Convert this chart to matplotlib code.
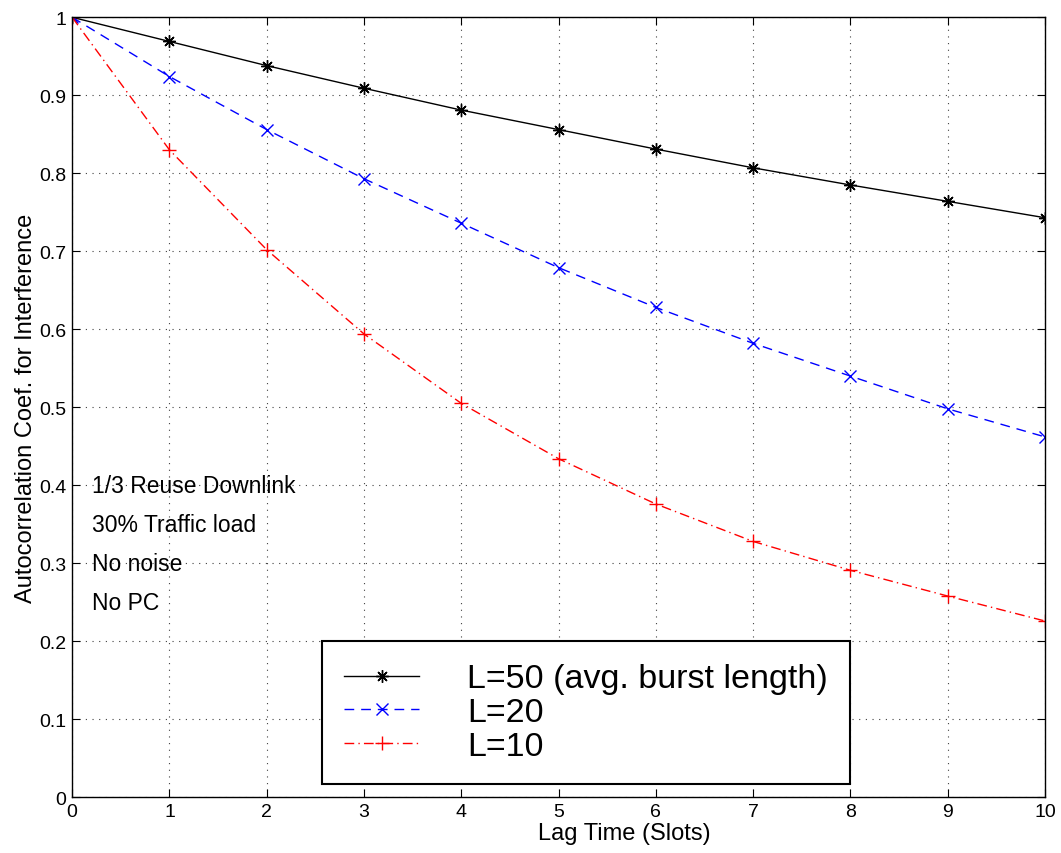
import numpy as np
import matplotlib
matplotlib.use('Agg')
import matplotlib.pyplot as plt

#######################
# Data.
# # # # # # # # # # # #
lags = [0, 1, 2, 3, 4, 5, 6, 7, 8, 9, 10]
rho_L50 = [1.0, 0.969, 0.938, 0.909, 0.881, 0.856, 0.831, 0.807, 0.785, 0.764, 0.743]
rho_L20 = [1.0, 0.924, 0.856, 0.793, 0.736, 0.679, 0.628, 0.582, 0.540, 0.498, 0.462]
rho_L10 = [1.0, 0.830, 0.702, 0.594, 0.505, 0.434, 0.376, 0.328, 0.291, 0.258, 0.226]

labels = ['L=50 (avg. burst length)', 'L=20', 'L=10']
notes = ['1/3 Reuse Downlink', '30% Traffic load', 'No noise', 'No PC']
note_y = [0.4, 0.35, 0.3, 0.25]
xticks = [0, 1, 2, 3, 4, 5, 6, 7, 8, 9, 10]
yticks = [0, 0.1, 0.2, 0.3, 0.4, 0.5, 0.6, 0.7, 0.8, 0.9, 1]
ytick_labels = ['0', '0.1', '0.2', '0.3', '0.4', '0.5', '0.6', '0.7', '0.8', '0.9', '1']
#######################

plt.rcParams['font.family'] = ['Liberation Sans', 'DejaVu Sans']

fig = plt.figure(figsize=(10.61, 8.54), dpi=100)
ax = fig.add_axes([0.068, 0.0652, 0.917, 0.9134])

# matlab style '*' marker
star = (8, 2, 0)
ax.plot(lags, rho_L50, color='k', ls='-', lw=1, marker=star, ms=9, mew=1,
        label=labels[0])
ax.plot(lags, rho_L20, color='b', ls=(0, (7, 5)), lw=1, marker='x', ms=8,
        mew=1, label=labels[1])
ax.plot(lags, rho_L10, color='r', ls=(0, (7, 3, 1, 3)), lw=1, marker='+',
        ms=10, mew=1, label=labels[2])

ax.set_xlim(0, 10)
ax.set_ylim(0, 1)
ax.set_xticks(xticks)
ax.set_xticklabels([str(t) for t in xticks], fontsize=14)
ax.set_yticks(yticks)
ax.set_yticklabels(ytick_labels, fontsize=14)
ax.tick_params(direction='in', length=6, width=0.8, top=True, right=True,
               pad=4)
ax.grid(True, color='0.25', ls=(0, (1, 5)), lw=0.8)
for sp in ax.spines.values():
    sp.set_linewidth(1)

# label sits a bit right of centre in the original
ax.set_xlabel('Lag Time (Slots)', fontsize=17)
ax.xaxis.set_label_coords(0.568, -0.032, transform=ax.transAxes)
ax.xaxis.label.set_va('top')
ax.set_ylabel('Autocorrelation Coef. for Interference', fontsize=17,
              labelpad=2)

for txt, yy in zip(notes, note_y):
    ax.text(0.2, yy, txt, fontsize=16.5, va='center', ha='left')

leg = ax.legend(loc='lower left', bbox_to_anchor=(0.257, 0.017),
                fontsize=24.5, fancybox=False, framealpha=1, edgecolor='k',
                numpoints=1, handlelength=2.2, handletextpad=1.4,
                labelspacing=0.08, borderpad=0.65, borderaxespad=0)
leg.get_frame().set_linewidth(1.5)

fig.savefig('out.png', dpi=100)
